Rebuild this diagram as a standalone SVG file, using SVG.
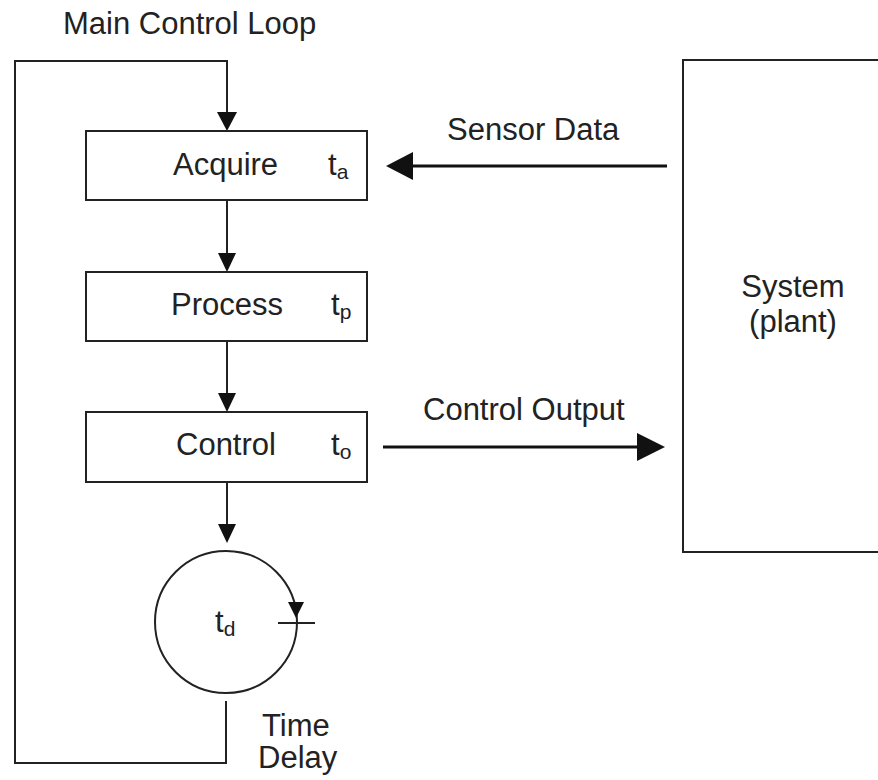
<svg xmlns="http://www.w3.org/2000/svg" width="878" height="780" viewBox="0 0 878 780">
<style>
  .ln { fill: none; stroke: #222; stroke-width: 2; }
  .box { fill: #fff; stroke: #222; stroke-width: 2; }
  .thick { fill: none; stroke: #111; stroke-width: 3.2; }
  text { font-family: "Liberation Sans", Arial, sans-serif; font-size: 31px; fill: #222; }
  .sub { font-size: 21px; }
  .head { fill: #111; }
</style>
<rect width="878" height="780" fill="#fff"/>

<g id="connectors">
  <!-- loop return path -->
  <polyline class="ln" points="226,701 226,763 15,763 15,61 227,61 227,112"/>
  <polygon class="head" points="217,112 237,112 227,131"/>
  <!-- Acquire -> Process -->
  <line class="ln" x1="227" y1="200" x2="227" y2="254"/>
  <polygon class="head" points="218,253 236,253 227,272"/>
  <!-- Process -> Control -->
  <line class="ln" x1="227" y1="341" x2="227" y2="394"/>
  <polygon class="head" points="218,393 236,393 227,412"/>
  <!-- Control -> Delay -->
  <line class="ln" x1="227" y1="482" x2="227" y2="525"/>
  <polygon class="head" points="218,524 236,524 227,543"/>
  <!-- Sensor Data -->
  <line class="thick" x1="667" y1="166" x2="410" y2="166"/>
  <polygon class="head" points="413,152 413,180 386,166"/>
  <!-- Control Output -->
  <line class="thick" x1="383" y1="447" x2="640" y2="447"/>
  <polygon class="head" points="637,433 637,461 665,447"/>
</g>

<g id="title">
  <text x="63" y="34">Main Control Loop</text>
</g>

<g id="acquire">
  <rect class="box" x="86" y="131" width="281" height="69"/>
  <text x="173" y="175">Acquire</text>
  <text x="328" y="175">t<tspan class="sub" dy="4">a</tspan></text>
</g>

<g id="process">
  <rect class="box" x="86" y="272" width="281" height="69"/>
  <text x="171" y="315">Process</text>
  <text x="331" y="315">t<tspan class="sub" dy="4">p</tspan></text>
</g>

<g id="control">
  <rect class="box" x="86" y="412" width="281" height="70"/>
  <text x="176" y="455">Control</text>
  <text x="331" y="455">t<tspan class="sub" dy="4">o</tspan></text>
</g>

<g id="delay">
  <circle class="ln" cx="226" cy="622" r="71"/>
  <polygon class="head" points="288,602 304,602 296,618"/>
  <line class="ln" x1="278" y1="623" x2="315" y2="623"/>
  <text x="215" y="632">t<tspan class="sub" dy="4">d</tspan></text>
  <text x="262" y="736">Time</text>
  <text x="258" y="768">Delay</text>
</g>

<g id="labels">
  <text x="447" y="140">Sensor Data</text>
  <text x="423" y="420">Control Output</text>
</g>

<g id="system">
  <rect class="box" x="683" y="60" width="220" height="492"/>
  <text x="793" y="297" text-anchor="middle">System</text>
  <text x="793" y="332" text-anchor="middle">(plant)</text>
</g>
</svg>
